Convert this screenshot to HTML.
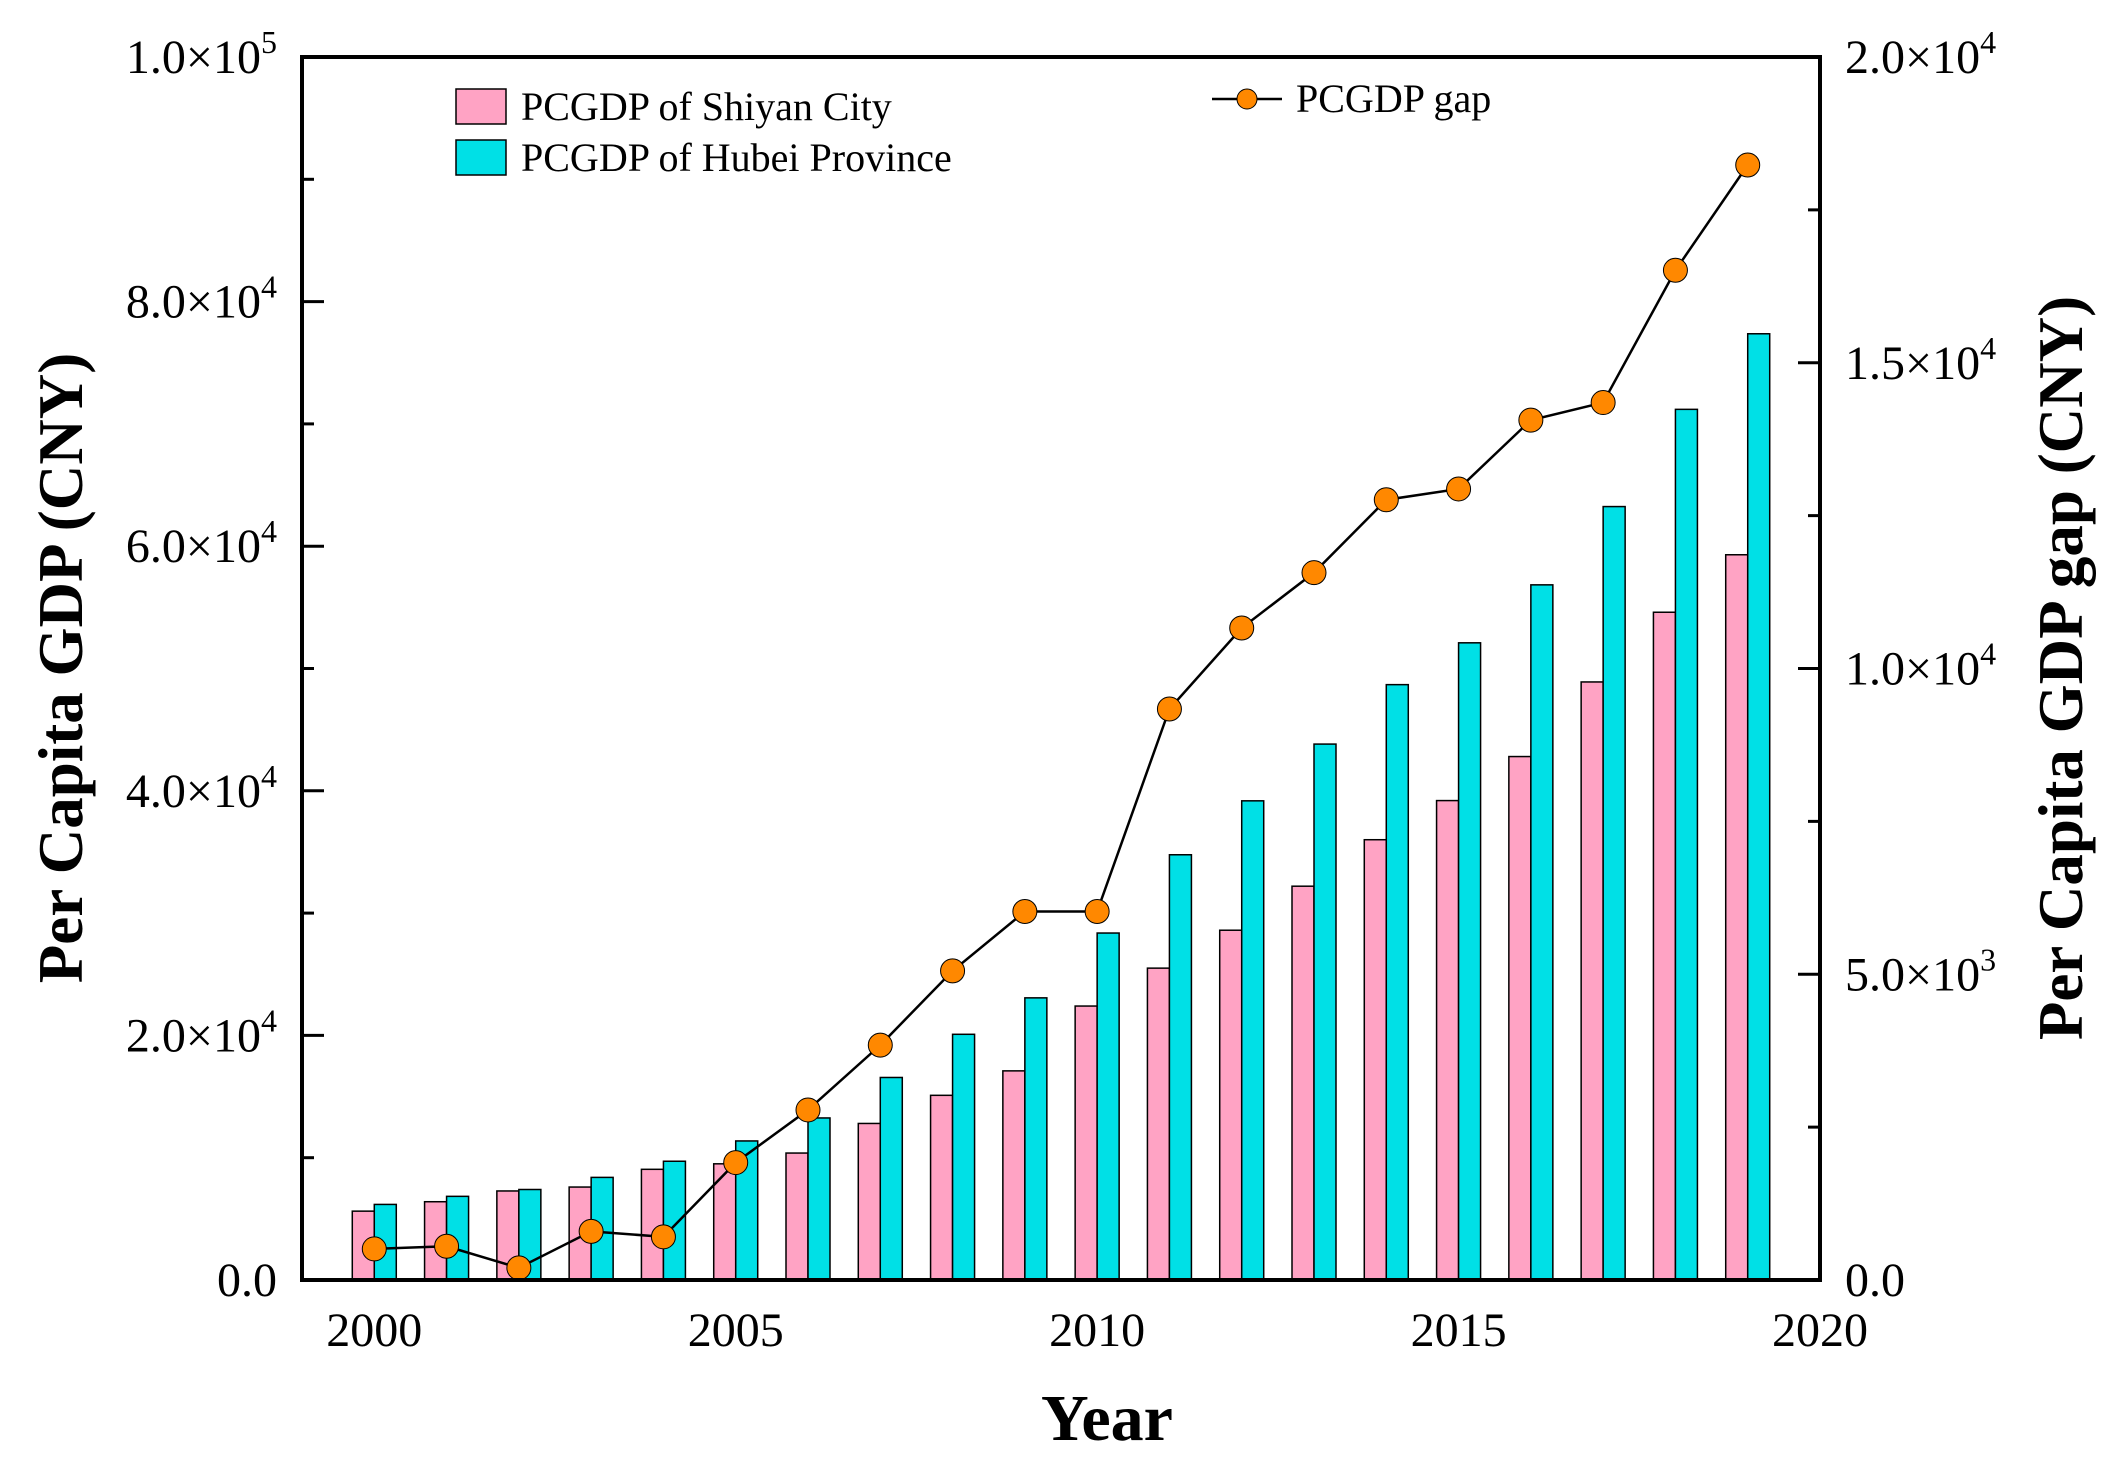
<!DOCTYPE html>
<html><head><meta charset="utf-8">
<style>
html,body{margin:0;padding:0;background:#fff;}
svg{display:block;font-family:"Liberation Serif",serif;}
</style></head>
<body>
<svg id="chart" width="2117" height="1471" viewBox="0 0 2117 1471" xmlns="http://www.w3.org/2000/svg">
<g id="bars"></g>
<g id="line"></g>
<g id="axes"></g>
<text x="0" y="0" transform="translate(82,668) rotate(-90)" text-anchor="middle" font-size="63" font-weight="bold">Per Capita GDP (CNY)</text>
<text x="0" y="0" transform="translate(2082,668) rotate(-90)" text-anchor="middle" font-size="63" font-weight="bold">Per Capita GDP gap (CNY)</text>
<text x="1107" y="1440" text-anchor="middle" font-size="66" font-weight="bold">Year</text>
<g>
<rect x="456" y="89" width="50" height="35" fill="#ffa3c4" stroke="#000" stroke-width="1.5"/>
<text x="521" y="120" font-size="40">PCGDP of Shiyan City</text>
<rect x="456" y="140" width="50" height="35" fill="#00e0e6" stroke="#000" stroke-width="1.5"/>
<text x="521" y="171" font-size="40">PCGDP of Hubei Province</text>
<line x1="1212" y1="99" x2="1282" y2="99" stroke="#000" stroke-width="2.5"/>
<circle cx="1247" cy="99" r="10" fill="#ff8800" stroke="#000" stroke-width="1"/>
<text x="1296" y="112" font-size="40">PCGDP gap</text>
</g>
</svg>
<script>
const years = [2000,2001,2002,2003,2004,2005,2006,2007,2008,2009,2010,2011,2012,2013,2014,2015,2016,2017,2018,2019];
const shiyan = [5630,6400,7280,7600,9050,9500,10380,12800,15100,17100,22400,25500,28600,32200,36000,39200,42800,48900,54600,59300];
const hubei = [6180,6840,7400,8390,9710,11370,13250,16560,20090,23070,28370,34770,39180,43820,48680,52100,56840,63240,71190,77370];
const gap = [508,552,199,795,706,1920,2781,3841,5055,6026,6026,9338,10662,11567,12759,12936,14062,14349,16512,18234];
const xTicks = [2000,2005,2010,2015,2020];
const yTicks = [0,20000,40000,60000,80000,100000];
const yTickLabels = ["0.0","2.0×10|4","4.0×10|4","6.0×10|4","8.0×10|4","1.0×10|5"];
const y2Ticks = [0,5000,10000,15000,20000];
const y2TickLabels = ["0.0","5.0×10|3","1.0×10|4","1.5×10|4","2.0×10|4"];

const L=302,R=1820,T=57,B=1280;
const x = v => L + (v-1999)/(2020-1999)*(R-L);
const y = v => B - v/100000*(B-T);
const y2 = v => B - v/20000*(B-T);
const NS="http://www.w3.org/2000/svg";
function mk(tag, attrs, parent){const e=document.createElementNS(NS,tag);for(const k in attrs)e.setAttribute(k,attrs[k]);parent.appendChild(e);return e;}
const gb=document.getElementById('bars'), gl=document.getElementById('line'), ga=document.getElementById('axes');
const bw=22;
years.forEach((yr,i)=>{
  const c=x(yr);
  const p=mk('rect',{x:c-bw,y:y(shiyan[i]),width:bw,height:B-y(shiyan[i]),fill:'#ffa3c4',stroke:'#000','stroke-width':1.5},gb);
  
  
  const h=mk('rect',{x:c,y:y(hubei[i]),width:bw,height:B-y(hubei[i]),fill:'#00e0e6',stroke:'#000','stroke-width':1.5},gb);
  
  
});
const pl=mk('polyline',{points:years.map((yr,i)=>x(yr)+','+y2(gap[i])).join(' '),fill:'none',stroke:'#000','stroke-width':2.5},gl);


years.forEach((yr,i)=>{
  const c=mk('circle',{cx:x(yr),cy:y2(gap[i]),r:12,fill:'#ff8800',stroke:'#000','stroke-width':1},gl);
  
  
});
const fr=mk('rect',{x:L,y:T,width:R-L,height:B-T,fill:'none',stroke:'#000','stroke-width':4},ga);


function lbl(str,xx,yy,anchor){
  const t=mk('text',{x:xx,y:yy,'text-anchor':anchor,'font-size':48},ga);
  const parts=str.split('|');
  t.appendChild(document.createTextNode(parts[0]));
  if(parts[1]){const s=mk('tspan',{dy:-20,'font-size':32},t);s.textContent=parts[1];}
  return t;
}
yTicks.forEach((v,i)=>{
  const tk=mk('line',{x1:L,x2:L+22,y1:y(v),y2:y(v),stroke:'#000','stroke-width':3},ga);
  
  
  if(i<yTicks.length-1){const m=mk('line',{x1:L,x2:L+12,y1:y(v+10000),y2:y(v+10000),stroke:'#000','stroke-width':3},ga);
  
  }
  const t=lbl(yTickLabels[i],277,y(v)+16,'end');
  
  
});
y2Ticks.forEach((v,i)=>{
  const tk=mk('line',{x1:R-22,x2:R,y1:y2(v),y2:y2(v),stroke:'#000','stroke-width':3},ga);
  
  
  if(i<y2Ticks.length-1){const m=mk('line',{x1:R-12,x2:R,y1:y2(v+2500),y2:y2(v+2500),stroke:'#000','stroke-width':3},ga);
  
  }
  const t=lbl(y2TickLabels[i],1845,y2(v)+16,'start');
  
  
});
xTicks.forEach(v=>{
  const t=lbl(String(v),x(v),1346,'middle');
  
  
});
</script>
</body></html>
